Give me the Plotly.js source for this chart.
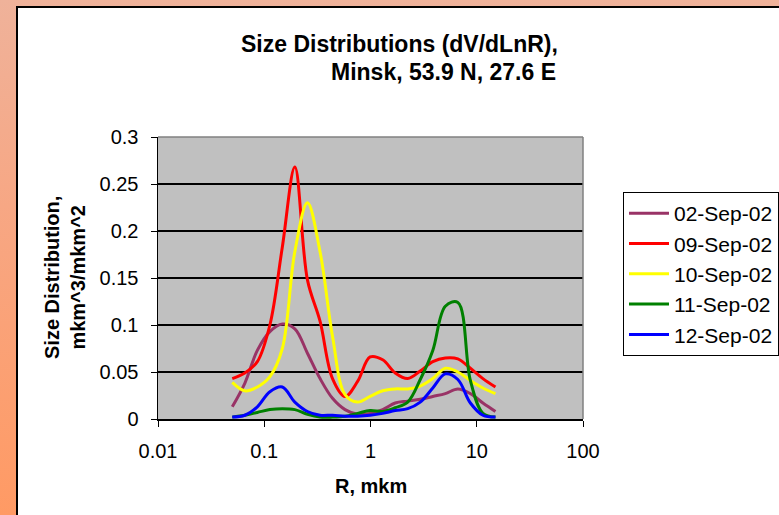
<!DOCTYPE html>
<html>
<head>
<meta charset="utf-8">
<script src="https://cdn.plot.ly/plotly-3.0.1.min.js"></script>
<style>
  html, body { margin:0; padding:0; width:779px; height:515px; overflow:hidden;
    background: linear-gradient(to bottom, #EFB29A 0%, #F7A784 40%, #FF9A64 100%); }
  #chart { position:absolute; left:16px; top:6px; width:761px; height:507px;
    border-left:2px solid #000; border-top:2px solid #000; background:#fff; }
</style>
</head>
<body>
<div id="chart"></div>
<script>
const radius = [0.05, 0.0656, 0.0861, 0.113, 0.148, 0.194, 0.255, 0.335, 0.439, 0.576, 0.756, 0.992, 1.302, 1.708, 2.241, 2.94, 3.857, 5.06, 6.639, 8.71, 11.43, 15.0];
const seriesNames = ["02-Sep-02", "09-Sep-02", "10-Sep-02", "11-Sep-02", "12-Sep-02"];
const sep02 = [0.013, 0.038, 0.073, 0.093, 0.101, 0.096, 0.070, 0.043, 0.022, 0.010, 0.005, 0.006, 0.010, 0.017, 0.019, 0.021, 0.024, 0.027, 0.032, 0.027, 0.017, 0.008];
const sep09 = [0.043, 0.049, 0.061, 0.100, 0.183, 0.268, 0.148, 0.104, 0.043, 0.024, 0.040, 0.066, 0.063, 0.049, 0.043, 0.051, 0.061, 0.065, 0.064, 0.054, 0.043, 0.034];
const sep10 = [0.039, 0.030, 0.034, 0.045, 0.075, 0.178, 0.230, 0.178, 0.088, 0.026, 0.018, 0.024, 0.030, 0.032, 0.032, 0.035, 0.043, 0.054, 0.050, 0.041, 0.033, 0.027];
const sep11 = [0.002, 0.004, 0.007, 0.010, 0.011, 0.010, 0.005, 0.002, 0.002, 0.003, 0.006, 0.009, 0.008, 0.012, 0.018, 0.042, 0.073, 0.120, 0.124, 0.041, 0.006, 0.002];
const sep12 = [0.002, 0.004, 0.013, 0.029, 0.034, 0.018, 0.008, 0.004, 0.004, 0.003, 0.003, 0.004, 0.006, 0.009, 0.011, 0.018, 0.033, 0.048, 0.042, 0.017, 0.004, 0.002];
const xTickVals = [0.01, 0.1, 1, 10, 100];
const xTickText = ["0.01", "0.1", "1", "10", "100"];
const yTickVals = [0, 0.05, 0.1, 0.15, 0.2, 0.25, 0.3];
const yTickText = ["0", "0.05", "0.1", "0.15", "0.2", "0.25", "0.3"];

const colors = ["#993366", "#FF0000", "#FFFF00", "#008000", "#0000FF"];
const allSeries = [sep02, sep09, sep10, sep11, sep12];

const FONT = "Arial, 'Liberation Sans', sans-serif";

const traces = allSeries.map((s, i) => ({
  type: "scatter",
  mode: "lines",
  x: radius,
  y: s,
  name: seriesNames[i],
  legendgroup: "g" + i,
  line: { color: colors[i], width: 3, shape: "spline", smoothing: 1 },
  hoverinfo: "skip"
}));

const layout = {
  width: 761, height: 507,
  margin: { l: 140, r: 196, t: 129, b: 96, pad: 0 },
  paper_bgcolor: "#FFFFFF",
  plot_bgcolor: "#C0C0C0",
  font: { family: FONT, size: 20, color: "#000" },
  showlegend: true,
  legend: {
    xref: "container", yref: "container",
    x: 0.795, y: 0.637, xanchor: "left", yanchor: "top",
    bgcolor: "#FFFFFF", bordercolor: "#000", borderwidth: 1,
    font: { family: FONT, size: 21, color: "#000" },
    tracegroupgap: 9, traceorder: "normal", itemwidth: 40
  },
  xaxis: {
    type: "log", range: [-2, 2],
    tickvals: xTickVals, ticktext: xTickText,
    ticks: "outside", ticklen: 6, tickcolor: "#000", tickwidth: 1,
    showline: true, linecolor: "#000", linewidth: 1.5,
    showgrid: false, zeroline: false,
    tickfont: { family: FONT, size: 20 },
    ticklabelstandoff: 7
  },
  yaxis: {
    range: [0, 0.3],
    tickvals: yTickVals, ticktext: yTickText,
    ticks: "outside", ticklen: 6, tickcolor: "#000", tickwidth: 1,
    showline: true, linecolor: "#000", linewidth: 1.5,
    showgrid: true, gridcolor: "#000", gridwidth: 1.5,
    zeroline: false,
    tickfont: { family: FONT, size: 20 },
    ticklabelstandoff: 8
  },
  shapes: [
    { type: "line", xref: "paper", yref: "paper", x0: 0, x1: 1, y0: 1, y1: 1, line: { color: "#808080", width: 1.5 }, layer: "above" },
    { type: "line", xref: "paper", yref: "paper", x0: 1, x1: 1, y0: 0, y1: 1, line: { color: "#808080", width: 1.5 }, layer: "above" }
  ],
  annotations: [
    { text: "<b>Size Distributions (dV/dLnR),</b>", xref: "paper", yref: "paper", x: 0.5687, y: 1, yshift: 93,
      xanchor: "center", yanchor: "middle", showarrow: false, font: { family: FONT, size: 23, color: "#000" } },
    { text: "<b>Minsk, 53.9 N, 27.6 E</b>", xref: "paper", yref: "paper", x: 0.94, y: 1, yshift: 65,
      xanchor: "right", yanchor: "middle", showarrow: false, font: { family: FONT, size: 23, color: "#000" } },
    { text: "<b>R, mkm</b>", xref: "paper", yref: "paper", x: 0.5, y: 0, yshift: -67,
      xanchor: "center", yanchor: "middle", showarrow: false, font: { family: FONT, size: 20, color: "#000" } },
    { text: "<b>Size Distribution,<br>mkm^3/mkm^2</b>", xref: "paper", yref: "paper", x: 0, xshift: -93, y: 0.5,
      xanchor: "center", yanchor: "middle", textangle: -90, showarrow: false,
      font: { family: FONT, size: 20, color: "#000" } }
  ]
};

Plotly.newPlot("chart", traces, layout, { staticPlot: true, displayModeBar: false });
</script>
</body>
</html>
